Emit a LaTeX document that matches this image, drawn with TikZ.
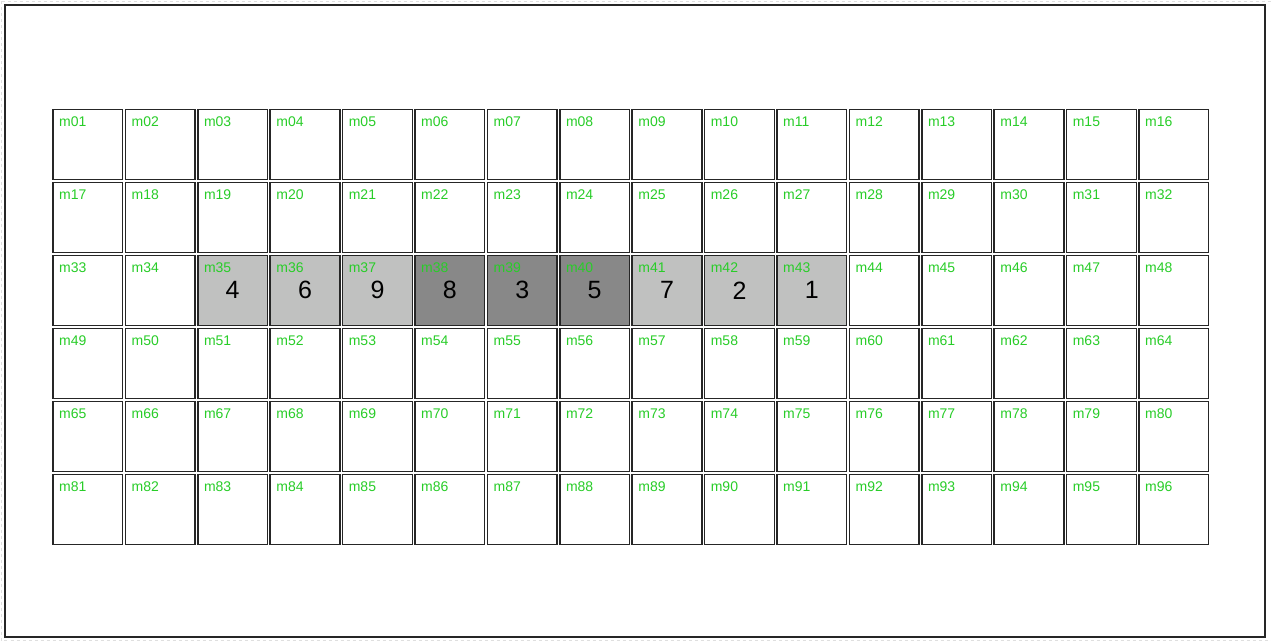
\documentclass[tikz,border=0pt]{standalone}
\usepackage{fontspec}
\setmainfont{Liberation Sans}
\definecolor{lbl}{RGB}{40,205,40}
\definecolor{lightc}{RGB}{192,193,192}
\definecolor{darkc}{RGB}{136,136,136}
\begin{document}
\begin{tikzpicture}[x=1pt,y=-1pt,
 cellbox/.style={draw=black!85, line width=1.5pt, minimum width=69.7pt, minimum height=70.1pt, inner sep=0pt, outer sep=0pt, anchor=north west},
 lbltext/.style={text=lbl, font=\fontsize{14pt}{14pt}\selectfont, inner sep=0pt, anchor=north west},
 numtext/.style={font=\fontsize{25pt}{25pt}\selectfont, inner sep=0pt}]
\useasboundingbox (0,0) rectangle (1271,642);
\draw[gray!25, dashed, line width=1pt] (1.5,1.5) -- (1.5,640.5) -- (1272,640.5);
\draw[gray!25, dashed, line width=1pt] (1.5,1.5) -- (1272,1.5);
\draw[black!85, line width=1.3pt] (5,5) rectangle (1265,637);
\foreach \r in {0,...,5}{
 \foreach \c in {0,...,15}{
  \pgfmathtruncatemacro{\n}{\r*16+\c+1}
  \pgfmathsetmacro{\xx}{53+72.4*\c}
  \pgfmathsetmacro{\yy}{109.3+73*\r}
  \edef\lab{\ifnum\n<10 0\fi\n}
  \def\fc{white}
  \ifnum\n>34 \ifnum\n<44 \def\fc{lightc}\fi\fi
  \ifnum\n>37 \ifnum\n<41 \def\fc{darkc}\fi\fi
  \node[cellbox, fill=\fc] (m\lab) at (\xx,\yy) {};
  \node[lbltext] (t\lab) at ([xshift=6pt,yshift=-7pt]m\lab.north west) {m\lab};
 }
}
\foreach \k/\v in {35/4,36/6,37/9,38/8,39/3,40/5,41/7,42/2,43/1}
  \node[numtext] (n\k) at (m\k.center) {\v};
\end{tikzpicture}
\end{document}
